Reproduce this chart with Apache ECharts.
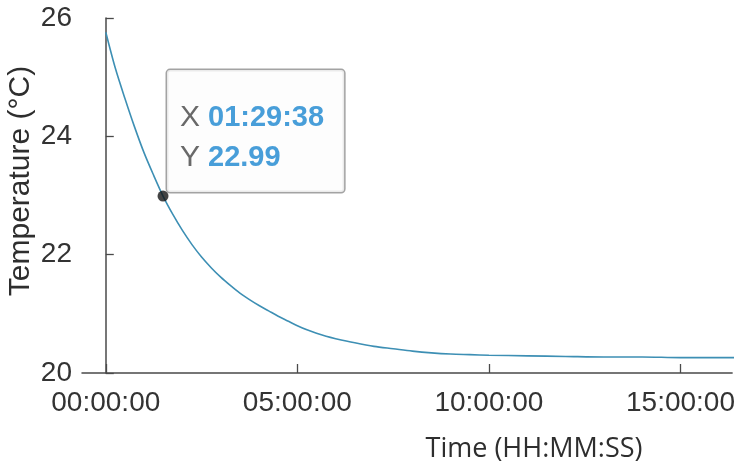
<!DOCTYPE html>
<html>
<head>
<meta charset="utf-8">
<script src="https://cdn.jsdelivr.net/npm/echarts@6/dist/echarts.min.js"></script>
<style>
html,body{margin:0;padding:0;background:#fff;}
#chart{width:738px;height:468px;}
</style>
</head>
<body>
<div id="chart"></div>
<script>
// Elapsed time in seconds
const timeSec = [0, 900, 1800, 2700, 3600, 4500, 5378, 6300, 7200, 8100, 9000, 9900, 10800, 11700, 12600, 13500, 14400, 15300, 16200, 17100, 18000, 18900, 19800, 20700, 21600, 23400, 25200, 27000, 28800, 30600, 32400, 34200, 36000, 39600, 43200, 46800, 50400, 54000, 57600, 59400];
// Temperature in °C
const tempC = [25.76, 25.15, 24.64, 24.16, 23.72, 23.34, 22.99, 22.68, 22.41, 22.17, 21.96, 21.78, 21.62, 21.48, 21.35, 21.24, 21.14, 21.05, 20.96, 20.88, 20.80, 20.73, 20.67, 20.62, 20.58, 20.51, 20.45, 20.41, 20.37, 20.34, 20.32, 20.31, 20.30, 20.29, 20.28, 20.27, 20.27, 20.26, 20.26, 20.26];
// Data tip
const tipTime = [5378];
const tipTemp = [22.99];
// Tick labels
const xTicks = [0, 18000, 36000, 54000];
const yTicks = [20, 22, 24, 26];
const xTitle = 'Time (HH:MM:SS)';
const yTitle = 'Temperature (°C)';

function hms(s) {
  s = Math.round(s);
  const h = Math.floor(s / 3600), m = Math.floor((s % 3600) / 60), sec = s % 60;
  const p = v => String(v).padStart(2, '0');
  return p(h) + ':' + p(m) + ':' + p(sec);
}

const chart = echarts.init(document.getElementById('chart'), null, {renderer: 'canvas'});
const axisColor = '#4a4a4a';
const labelFont = "'Liberation Sans', Arial, Helvetica, sans-serif";

chart.setOption({
  animation: false,
  backgroundColor: '#ffffff',
  grid: {left: 82, right: 0, top: 18, bottom: 95, containLabel: false},
  xAxis: {
    type: 'value',
    min: -2235,
    max: 58850,
    axisLine: {show: true, lineStyle: {color: axisColor, width: 1.5}},
    axisTick: {show: true, inside: true, length: 9, lineStyle: {color: axisColor, width: 1.3}, customValues: xTicks},
    axisLabel: {show: true, customValues: xTicks, formatter: v => hms(v), fontSize: 28, fontFamily: labelFont, color: '#333', margin: 16},
    splitLine: {show: false}
  },
  yAxis: {
    type: 'value',
    min: yTicks[0],
    max: yTicks[yTicks.length - 1],
    interval: 2,
    axisLine: {show: true, lineStyle: {color: axisColor, width: 1.5}},
    axisTick: {show: true, inside: true, length: 8, lineStyle: {color: axisColor, width: 1.3}},
    axisLabel: {fontSize: 28, fontFamily: labelFont, color: '#333', margin: 10},
    splitLine: {show: false}
  },
  graphic: [
    {type: 'text', x: 21, y: 181, rotation: Math.PI / 2,
     style: {text: yTitle, fontSize: 30, fontFamily: labelFont, fill: '#2e2e2e', align: 'center', verticalAlign: 'middle'}},
    {type: 'text', x: 534, y: 449,
     style: {text: xTitle, fontSize: 27, fontFamily: "'Open Sans', 'Noto Sans', sans-serif", fill: '#2e2e2e', align: 'center', verticalAlign: 'middle'}}
  ],
  series: [
    {
      type: 'line',
      data: timeSec.map((t, i) => [t, tempC[i]]),
      showSymbol: false,
      smooth: 0.3,
      lineStyle: {color: '#3d8fb4', width: 1.6},
      z: 2
    },
    {
      type: 'scatter',
      data: tipTime.map((t, i) => [t, tipTemp[i]]),
      symbol: 'circle',
      symbolSize: 11,
      itemStyle: {color: '#141414'},
      z: 5,
      label: {
        show: true,
        position: [9.5, -120.5],
        align: 'left',
        verticalAlign: 'top',
        formatter: p => '{k|X}{v|' + hms(p.value[0]) + '}\n{k|Y}{v|' + p.value[1].toFixed(2) + '}',
        backgroundColor: '#fdfdfd',
        borderColor: '#8c8c8c',
        borderWidth: 1.5,
        borderRadius: 3,
        padding: [28, 20, 14, 13],
        rich: {
          k: {fontSize: 30, fontFamily: labelFont, color: '#444', lineHeight: 40, padding: [0, 8, 0, 0]},
          v: {fontSize: 29, fontFamily: labelFont, fontWeight: 'bold', color: '#1a86cf', lineHeight: 40}
        }
      }
    }
  ]
});
</script>
</body>
</html>
